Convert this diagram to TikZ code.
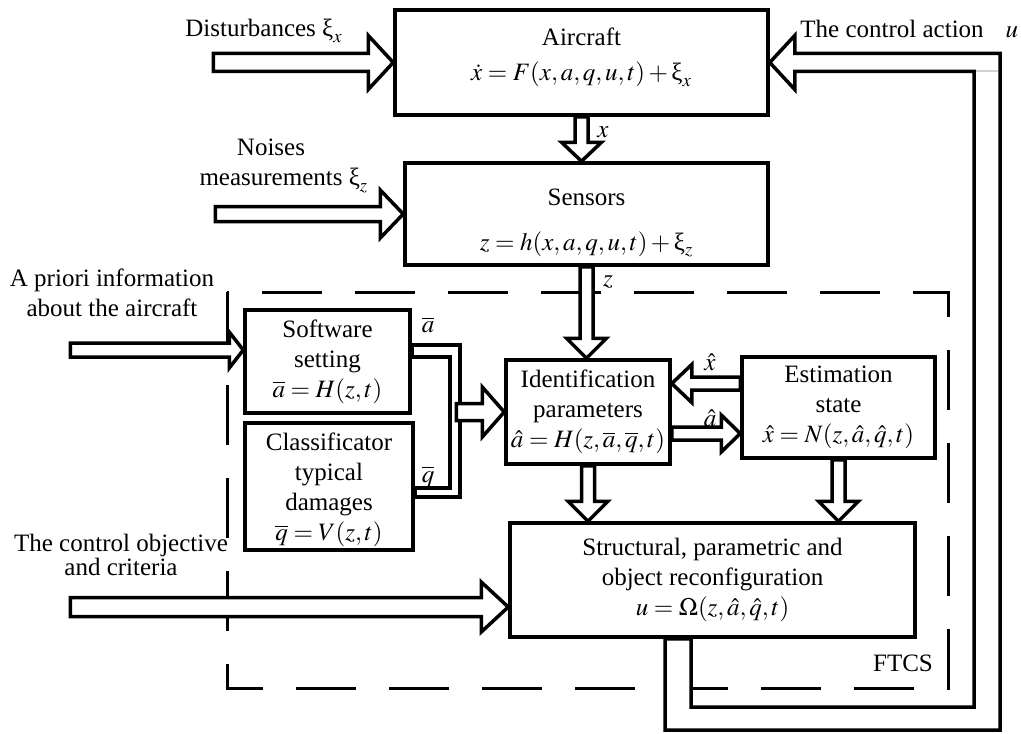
\documentclass[tikz,border=0pt]{standalone}
\usepackage{amsmath}
\usepackage{mathptmx}
\usepackage{fontspec}
\setmainfont{Liberation Serif}
\usetikzlibrary{calc,backgrounds}

% hollow block arrow: from, to, half shaft, half head, head length
\newcommand{\fatarrow}[5]{%
  \path ($(#2)!#5!(#1)$) coordinate (ahb);
  \draw[blk,fill=white]
    ($(#1)!#3!90:(#2)$) -- ($(ahb)!#3!90:(#2)$) -- ($(ahb)!#4!90:(#2)$)
    -- (#2) -- ($(ahb)!#4!-90:(#2)$) -- ($(ahb)!#3!-90:(#2)$)
    -- ($(#1)!#3!-90:(#2)$) -- cycle;
}

\begin{document}
\begin{tikzpicture}[x=0.5pt,y=-0.5pt,
  font=\fontsize{12.5}{15}\selectfont,
  blk/.style={line width=1.75pt,line join=miter},
  box/.style={draw,line width=1.75pt,align=center,inner sep=0pt},
  lbl/.style={inner sep=0pt},
  frame/.style={line width=1.5pt,dash pattern=on 30pt off 16.5pt},
]
\useasboundingbox (0,0) rectangle (1021,733);

% ============================================================
% Blocks
% ============================================================
\node[box,minimum width=186.5pt,minimum height=52.5pt] (aircraft) at (581.5,62.5)
  {Aircraft\\[2.5pt] $\dot{x}=F(x,a,q,u,t)+\text{ξ}_x$\rule[-8pt]{0pt}{8pt}};
\node[box,minimum width=181.5pt,minimum height=51pt] (sensors) at (586.5,214)
  {\rule{0pt}{17pt}Sensors\\[7.5pt] $z=h(x,a,q,u,t)+\text{ξ}_z$};
\node[box,minimum width=82.5pt,minimum height=51.5pt] (soft) at (327.5,361.5)
  {Software\\setting\\$\overline{a}=H(z,t)$};
\node[box,minimum width=84pt,minimum height=63.5pt] (class) at (329,486.5)
  {\rule{0pt}{12pt}Classificator\\typical\\damages\\$\overline{q}=V(z,t)$};
\node[box,minimum width=82pt,minimum height=52pt] (ident) at (588,412)
  {Identification\\parameters\\$\hat{a}=H(z,\overline{a},\overline{q},t)$};
\node[box,minimum width=96.5pt,minimum height=50.5pt] (estim) at (838.5,407.5)
  {Estimation\\state\\$\hat{x}=N(z,\hat{a},\hat{q},t)$};
\node[box,minimum width=202.5pt,minimum height=57pt] (struct) at (712.5,580)
  {Structural, parametric and\\object reconfiguration\\$u=\Omega(z,\hat{a},\hat{q},t)$};

% ============================================================
% Texts
% ============================================================
\node[lbl,anchor=base] (dlbl) at (264,37) {Disturbances $\text{ξ}_x$};
\node[lbl,anchor=base west] (ulbl) at (800,38) {The control action\hspace{11pt}$u$};
\node[lbl,align=center] (nlbl) at (271,166)
  {Noises\\measurements\rlap{ $\text{ξ}_z$}};
\node[lbl,align=center] (plbl) at (112,293)
  {A priori information\\about the aircraft};
\node[lbl,align=center] (olbl) at (121,555)
  {The control objective\\[-3pt]and criteria};
\node[lbl] (abar) at (428,325) {$\overline{a}$};
\node[lbl] (qbar) at (428,477) {$\overline{q}$};
\node[lbl] (xlbl) at (603,132) {$x$};
\node[lbl] (zlbl) at (608,282) {$z$};
\node[lbl] (xhat) at (710,362) {$\hat{x}$};
\node[lbl] (ahat) at (710,418) {$\hat{a}$};
\node[lbl] (ftcs) at (903,663) {FTCS};

% ============================================================
% Frame and block arrows
% ============================================================
\begin{pgfonlayer}{background}
  % FTCS boundary
  \draw[frame] (227,292) rectangle (948,688);

  % Inputs from outside
  \coordinate (distin) at ($(aircraft.west)+(-180,0)$);
  \fatarrow{distin}{aircraft.west}{4.5pt}{13.5pt}{12.5pt}
  \coordinate (noisein) at ($(sensors.west)+(-188,0)$);
  \fatarrow{noisein}{sensors.west}{3.75pt}{12pt}{11.5pt}
  \coordinate (apin) at ($(soft.west)+(-173,-11.5)$);
  \coordinate (aptip) at (apin -| soft.west);
  \fatarrow{apin}{aptip}{3.5pt}{9pt}{7pt}
  \coordinate (objin) at ($(struct.west)+(-438,27)$);
  \coordinate (objtip) at (objin -| struct.west);
  \fatarrow{objin}{objtip}{4.75pt}{12.5pt}{13.5pt}

  % Measured signals
  \coordinate (xtip) at (aircraft.south |- sensors.north);
  \fatarrow{aircraft.south}{xtip}{3.25pt}{10pt}{9.5pt}
  \coordinate (ztip) at (sensors.south |- ident.north);
  \fatarrow{sensors.south}{ztip}{3.25pt}{10pt}{10pt}

  % a-bar / q-bar bus
  \draw[blk,fill=white] ($(soft.east)+(0,-16.5)$) -- ++(48,0)
    |- ($(class.east)+(0,10.5)$) -- ++(0,-9) -- ++(35,0)
    |- ($(soft.east)+(0,-4.5)$) -- cycle;
  \coordinate (busin) at ($(ident.west)+(-48,0)$);
  \fatarrow{busin}{ident.west}{4.25pt}{12.5pt}{11pt}

  % Estimates
  \coordinate (xhin) at ($(estim.west)+(0,-24)$);
  \coordinate (xhtip) at (xhin -| ident.east);
  \fatarrow{xhin}{xhtip}{3.25pt}{9.5pt}{10pt}
  \coordinate (ahin) at ($(ident.east)+(0,21.5)$);
  \coordinate (ahtip) at (ahin -| estim.west);
  \fatarrow{ahin}{ahtip}{3.25pt}{9.25pt}{9.5pt}
  \coordinate (idtip) at (ident.south |- struct.north);
  \fatarrow{ident.south}{idtip}{3.25pt}{10pt}{10pt}
  \coordinate (estip) at (estim.south |- struct.north);
  \fatarrow{estim.south}{estip}{3.25pt}{10pt}{10pt}

  % Control action feedback
  \coordinate (fbo) at (1000,730);
  \coordinate (fbi) at (974,707);
  \draw[blk,fill=white] (aircraft.east) -- ++(25,-27) -- ++(0,18) -| (fbo)
    -| ($(struct.south)+(-47.5,0)$) -- ++(26,0) |- (fbi)
    |- ($(aircraft.east)+(25,9)$) -- ++(0,18) -- cycle;
  \draw[gray!35,line width=1pt] (976,71.5) -- (998,71.5);
\end{pgfonlayer}

\end{tikzpicture}
\end{document}
